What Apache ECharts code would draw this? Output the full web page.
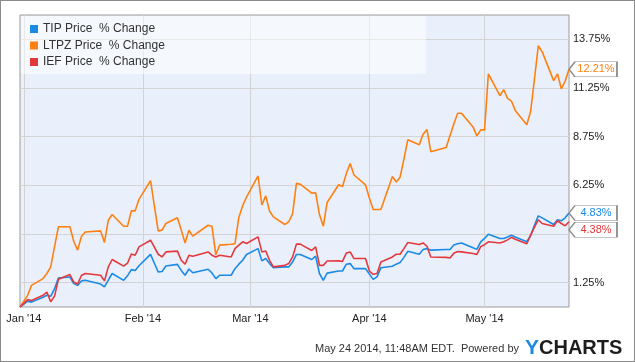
<!DOCTYPE html>
<html><head><meta charset="utf-8">
<script src="https://cdn.jsdelivr.net/npm/echarts@6/dist/echarts.min.js"></script>
<style>
html,body{margin:0;padding:0;background:#fff;}
#c{position:absolute;left:0;top:0;width:635px;height:362px;}
#frame{position:absolute;left:0;top:0;width:635px;height:362px;box-sizing:border-box;border:1px solid #8a8a8a;pointer-events:none;}
</style></head><body>
<div id="c"></div><div id="frame"></div>
<script>
const dates = [
'2013-12-31',
'2014-01-02','2014-01-03','2014-01-06','2014-01-07','2014-01-08','2014-01-09','2014-01-10','2014-01-13','2014-01-14','2014-01-15','2014-01-16','2014-01-17','2014-01-21','2014-01-22','2014-01-23','2014-01-24','2014-01-27','2014-01-28','2014-01-29','2014-01-30','2014-01-31',
'2014-02-03','2014-02-04','2014-02-05','2014-02-06','2014-02-07','2014-02-10','2014-02-11','2014-02-12','2014-02-13','2014-02-14','2014-02-18','2014-02-19','2014-02-20','2014-02-21','2014-02-24','2014-02-25','2014-02-26','2014-02-27','2014-02-28',
'2014-03-03','2014-03-04','2014-03-05','2014-03-06','2014-03-07','2014-03-10','2014-03-11','2014-03-12','2014-03-13','2014-03-14','2014-03-17','2014-03-18','2014-03-19','2014-03-20','2014-03-21','2014-03-24','2014-03-25','2014-03-26','2014-03-27','2014-03-28','2014-03-31',
'2014-04-01','2014-04-02','2014-04-03','2014-04-04','2014-04-07','2014-04-08','2014-04-09','2014-04-10','2014-04-11','2014-04-14','2014-04-15','2014-04-16','2014-04-17','2014-04-21','2014-04-22','2014-04-23','2014-04-24','2014-04-25','2014-04-28','2014-04-29','2014-04-30',
'2014-05-01','2014-05-02','2014-05-05','2014-05-06','2014-05-07','2014-05-08','2014-05-09','2014-05-12','2014-05-13','2014-05-14','2014-05-15','2014-05-16','2014-05-19','2014-05-20','2014-05-21','2014-05-22','2014-05-23'
];
const tipValues = [
0,
0.30,0.25,0.50,0.60,0.55,0.94,1.49,1.54,1.20,1.11,1.34,1.37,1.18,1.03,1.38,1.72,1.37,1.60,1.92,1.87,2.12,
2.70,2.25,1.80,1.82,2.11,2.19,1.88,1.63,1.95,1.76,1.94,1.75,1.46,1.63,1.63,1.97,2.20,2.40,2.70,
3.00,2.37,2.49,2.23,2.02,2.06,2.06,2.31,2.70,2.70,2.44,2.61,1.72,1.37,1.74,1.85,1.85,2.20,2.23,1.97,1.97,
1.70,1.42,1.55,2.02,2.09,2.20,2.28,2.55,2.86,2.71,2.95,3.00,2.92,2.95,2.95,3.18,3.25,3.29,3.04,2.96,3.35,
3.52,3.74,3.52,3.52,3.60,3.69,3.60,3.35,3.66,4.20,4.68,4.58,4.24,4.48,4.43,4.58,4.83
];
const ltpzValues = [
0,
0.60,1.11,1.46,1.72,2.06,3.10,4.12,4.12,3.38,2.92,3.62,3.85,3.91,3.31,4.46,4.75,4.15,4.15,4.94,4.94,5.53,
6.49,5.20,3.91,3.95,4.29,4.58,3.95,3.29,3.95,3.64,4.20,4.15,2.68,3.18,3.22,3.25,4.60,5.20,5.65,
6.73,5.24,5.71,4.93,4.63,4.24,4.38,4.78,6.35,6.31,5.85,5.87,4.75,4.15,5.37,6.28,6.19,6.85,7.37,6.78,6.27,
5.60,5.01,5.01,5.01,6.70,6.42,6.67,7.60,8.59,8.33,8.88,9.12,7.98,8.19,8.80,9.40,9.95,9.95,9.25,8.79,9.10,
9.10,11.98,10.86,11.16,10.72,10.58,10.10,9.36,10.04,11.70,13.42,13.12,11.63,11.98,11.21,11.61,12.21
];
const iefValues = [
0,
0.38,0.33,0.60,0.77,0.27,0.56,1.42,1.67,1.28,1.18,1.62,1.72,1.63,1.34,2.06,2.44,2.10,2.25,2.72,2.66,3.09,
3.43,3.07,2.71,2.57,2.83,2.87,2.40,2.20,2.66,2.61,2.83,2.66,2.57,2.66,2.57,3.00,3.18,3.35,3.26,
3.60,2.83,2.88,2.40,2.06,2.14,2.23,2.57,3.23,3.23,2.90,3.09,2.14,2.14,2.36,2.37,2.34,2.77,2.83,2.49,2.49,
1.85,1.68,1.72,2.31,2.57,2.71,2.71,3.00,3.31,3.21,3.29,3.12,2.57,2.55,2.52,2.76,2.85,2.83,2.75,2.70,3.10,
3.20,3.35,3.29,3.35,3.45,3.58,3.48,3.25,3.69,4.10,4.48,4.29,4.15,4.43,4.29,4.17,4.38
];
const seriesNames = ['TIP Price  % Change','LTPZ Price  % Change','IEF Price  % Change'];
const seriesColors = ['#1a8ae6','#ff8010','#e5383c'];
const monthTickDates = ['2014-01-01','2014-02-01','2014-03-01','2014-04-01','2014-05-01'];
const monthTickLabels = ["Jan '14","Feb '14","Mar '14","Apr '14","May '14"];
const yGridValues = [1.25,3.75,6.25,8.75,11.25,13.75];
const yLabelValues = [1.25,6.25,8.75,11.25,13.75];
const footerText = 'May 24 2014, 11:48AM EDT.  Powered by';

const FONT = '"Liberation Sans", Arial, sans-serif';
const allValues = [tipValues, ltpzValues, iefValues];
const labelShift = [0, 0, 8];
const last = dates.length - 1;
const ts = dates.map(function (d) { return Date.parse(d + 'T00:00:00Z'); });
const monthTs = monthTickDates.map(function (d) { return Date.parse(d + 'T00:00:00Z'); });

const chart = echarts.init(document.getElementById('c'), null, {renderer: 'canvas'});
chart.setOption({
  animation: false,
  textStyle: {fontFamily: FONT},
  grid: {left: 20, right: 66, top: 15, bottom: 55, show: true, backgroundColor: '#eaf0fb', borderColor: '#9a9a9a', borderWidth: 1},
  legend: {
    data: seriesNames, orient: 'vertical', left: 30, top: 22, padding: 0,
    icon: 'rect', itemWidth: 8, itemHeight: 8, itemGap: 2.5,
    textStyle: {fontSize: 12, color: '#333', lineHeight: 14, fontFamily: FONT}
  },
  xAxis: {
    type: 'value', min: ts[0], max: ts[last],
    axisLine: {show: false}, axisTick: {show: false, customValues: monthTs},
    axisLabel: {customValues: monthTs, color: '#222', fontSize: 11, margin: 6, fontFamily: FONT,
      formatter: function (v) { return monthTickLabels[new Date(v).getUTCMonth()]; }},
    splitLine: {show: true, lineStyle: {color: '#d3d3d3', width: 1}}
  },
  yAxis: {
    type: 'value', position: 'right', min: 0, max: 15,
    axisLine: {show: false}, axisTick: {show: false, customValues: yGridValues},
    axisLabel: {customValues: yLabelValues, color: '#222', fontSize: 11, margin: 4, fontFamily: FONT,
      formatter: function (v) { return v.toFixed(2) + '%'; }},
    splitLine: {show: true, lineStyle: {color: '#d3d3d3', width: 1}}
  },
  graphic: [
    {type: 'rect', z: 1, silent: true, shape: {x: 21, y: 16, width: 405, height: 58}, style: {fill: 'rgba(255,255,255,0.5)'}},
    {type: 'text', z: 5, style: {x: 519, y: 349, text: footerText, align: 'right', verticalAlign: 'middle', font: '11px ' + FONT, fill: '#333'}},
    {type: 'text', z: 5, style: {x: 525, y: 348, text: '{y|Y}{c|CHARTS}', verticalAlign: 'middle', font: 'bold 20px ' + FONT,
      rich: {y: {fill: '#1c8ce3', font: 'bold 21px ' + FONT}, c: {fill: '#1d1d1d', font: 'bold 20px ' + FONT}}}}
  ],
  series: seriesNames.map(function (name, k) {
    const vals = allValues[k];
    return {
      name: name, type: 'line', showSymbol: false, symbol: 'none', z: 3 + k,
      lineStyle: {width: 1.6, color: seriesColors[k]}, itemStyle: {color: seriesColors[k]},
      data: ts.map(function (t, i) { return [t, vals[i]]; }),
      markPoint: {
        symbol: 'path://M0,7.5L6,0H48V15H6Z', symbolSize: [48, 15], symbolKeepAspect: false,
        symbolOffset: [24, labelShift[k]],
        itemStyle: {color: '#ffffff', borderColor: '#8a8a8a', borderWidth: 1},
        label: {show: true, position: 'inside', offset: [3, 0], color: seriesColors[k], fontSize: 11, fontFamily: FONT,
          formatter: function (p) { return p.value.toFixed(2) + '%'; }},
        data: [{coord: [ts[last], vals[last]], value: vals[last]}]
      }
    };
  })
});
</script></body></html>
